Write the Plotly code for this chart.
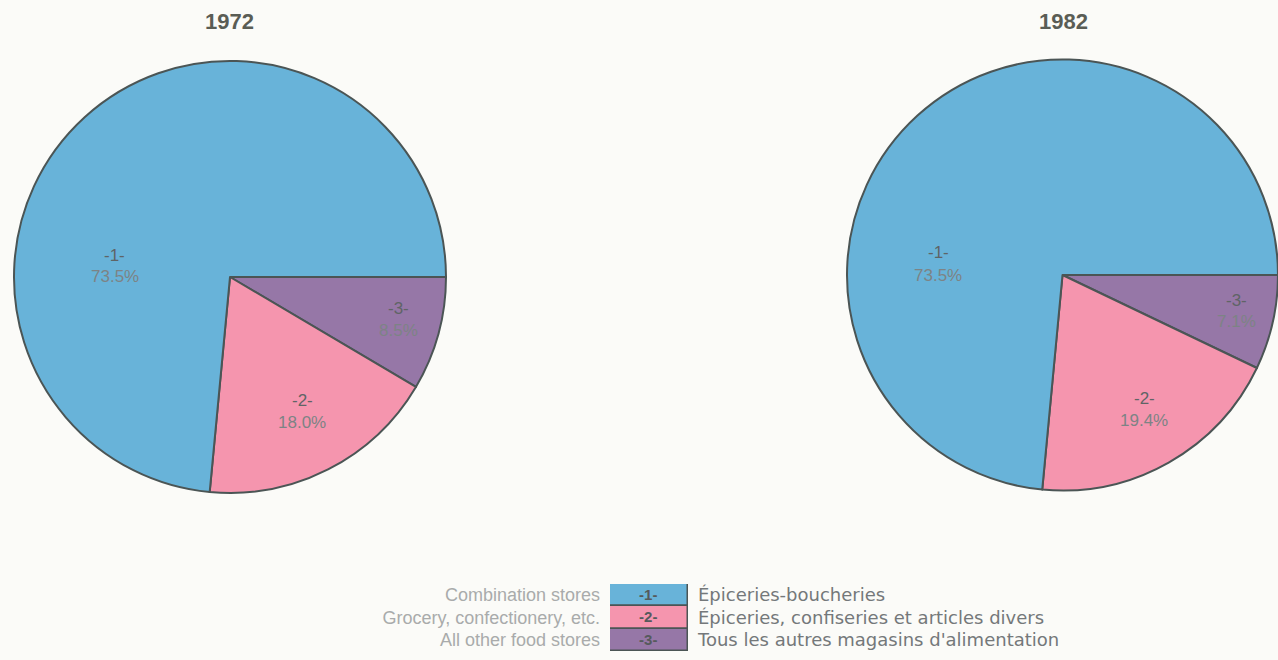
import plotly.graph_objects as go

W, H = 1278, 660

# ---- data ----
years = ["1972", "1982"]
codes = ["-1-", "-2-", "-3-"]
english = ["Combination stores", "Grocery, confectionery, etc.", "All other food stores"]
french = ["Épiceries-boucheries", "Épiceries, confiseries et articles divers",
          "Tous les autres magasins d'alimentation"]
share_1972 = [73.5, 18.0, 8.5]
share_1982 = [73.5, 19.4, 7.1]

# ---- styles / layout ----
colors = ["#68b3d9", "#f595ae", "#9677a7"]
edge = "#4b5555"
bg = "#fbfbf8"
font_family = "Liberation Sans, Arial, sans-serif"
wide_family = "DejaVu Sans, Liberation Sans, sans-serif"

def px_x(x):
    return x / W

def px_y(y):
    return 1 - y / H

pie_boxes = {  # left, top, right, bottom in pixels
    "1972": (14, 61, 446, 493),
    "1982": (847, 59, 1278, 491),
}
title_pos = {"1972": (230, 22), "1982": (1063, 22)}
# label anchor pixel positions (code line, value line) per slice
label_pos = {
    "1972": [(115, 255, 115, 276), (302, 400, 302, 422), (398, 308, 398, 331)],
    "1982": [(938, 252, 938, 275), (1144, 398, 1144, 420), (1236, 300, 1236, 322)],
}

fig = go.Figure()
annotations = []
for year, shares in zip(years, [share_1972, share_1982]):
    l, t, r, b = pie_boxes[year]
    # drawn clockwise from 3 o'clock in reverse order, so slice -1- ends back at 3 o'clock
    fig.add_trace(go.Pie(
        values=shares[::-1], labels=codes[::-1], sort=False,
        direction="clockwise", rotation=90,
        marker=dict(colors=colors[::-1], line=dict(color=edge, width=2)),
        textinfo="none", hoverinfo="label+percent", showlegend=False,
        domain=dict(x=[px_x(l), min(1.0, px_x(r))], y=[px_y(b), px_y(t)]),
    ))
    tx, ty = title_pos[year]
    annotations.append(dict(
        x=px_x(tx), y=px_y(ty), xref="paper", yref="paper", text=f"<b>{year}</b>",
        showarrow=False, font=dict(family=font_family, size=22, color="#5a5d55"),
        xanchor="center", yanchor="middle"))
    for code, val, (cx, cy, vx, vy) in zip(codes, shares, label_pos[year]):
        annotations.append(dict(
            x=px_x(cx), y=px_y(cy), xref="paper", yref="paper", text=code,
            showarrow=False, font=dict(family=font_family, size=17, color="#5f6466"),
            xanchor="center", yanchor="middle"))
        annotations.append(dict(
            x=px_x(vx), y=px_y(vy), xref="paper", yref="paper", text=f"{val:.1f}%",
            showarrow=False, font=dict(family=font_family, size=17, color="#7d8385"),
            xanchor="center", yanchor="middle"))

# ---- legend built as a tiny bar chart ----
rows = list(range(len(codes)))
fig.add_trace(go.Bar(
    orientation="h", y=rows, x=[1] * len(codes), width=1,
    marker=dict(color=colors, line=dict(color=edge, width=1.5)),
    text=[f"<b>{c}</b>" for c in codes], textposition="inside", insidetextanchor="middle",
    textfont=dict(family=font_family, size=15, color="#555a5c"),
    constraintext="none", showlegend=False, hoverinfo="skip",
    xaxis="x", yaxis="y",
))
fig.add_trace(go.Scatter(
    x=[0.5] * len(codes), y=rows, mode="markers", marker=dict(opacity=0),
    showlegend=False, hoverinfo="skip", xaxis="x", yaxis="y2",
))

leg_l, leg_t, leg_r, leg_b = 610, 584, 688, 651
fig.update_layout(
    width=W, height=H,
    margin=dict(l=0, r=0, t=0, b=0),
    paper_bgcolor=bg, plot_bgcolor="rgba(0,0,0,0)",
    font=dict(family=font_family),
    annotations=annotations,
    xaxis=dict(domain=[px_x(leg_l), px_x(leg_r)], range=[0, 1], visible=False, fixedrange=True),
    yaxis=dict(domain=[px_y(leg_b), px_y(leg_t)], range=[2.5, -0.5],
               tickvals=rows, ticktext=english, ticks="", showgrid=False, zeroline=False,
               showline=False, ticklabelstandoff=9,
               tickfont=dict(family=font_family, size=18, color="#a9abab")),
    yaxis2=dict(overlaying="y", side="right", range=[2.5, -0.5],
                tickvals=rows, ticktext=french, ticks="", showgrid=False, zeroline=False,
                showline=False, ticklabelstandoff=9,
                tickfont=dict(family=wide_family, size=18, color="#74787a")),
    bargap=0,
)

fig.write_html(
    "out.html",
    config={"displayModeBar": False},
    post_script="document.body.style.margin='0px';"
                "document.body.style.background='" + bg + "';"
                "document.documentElement.style.background='" + bg + "';",
)
